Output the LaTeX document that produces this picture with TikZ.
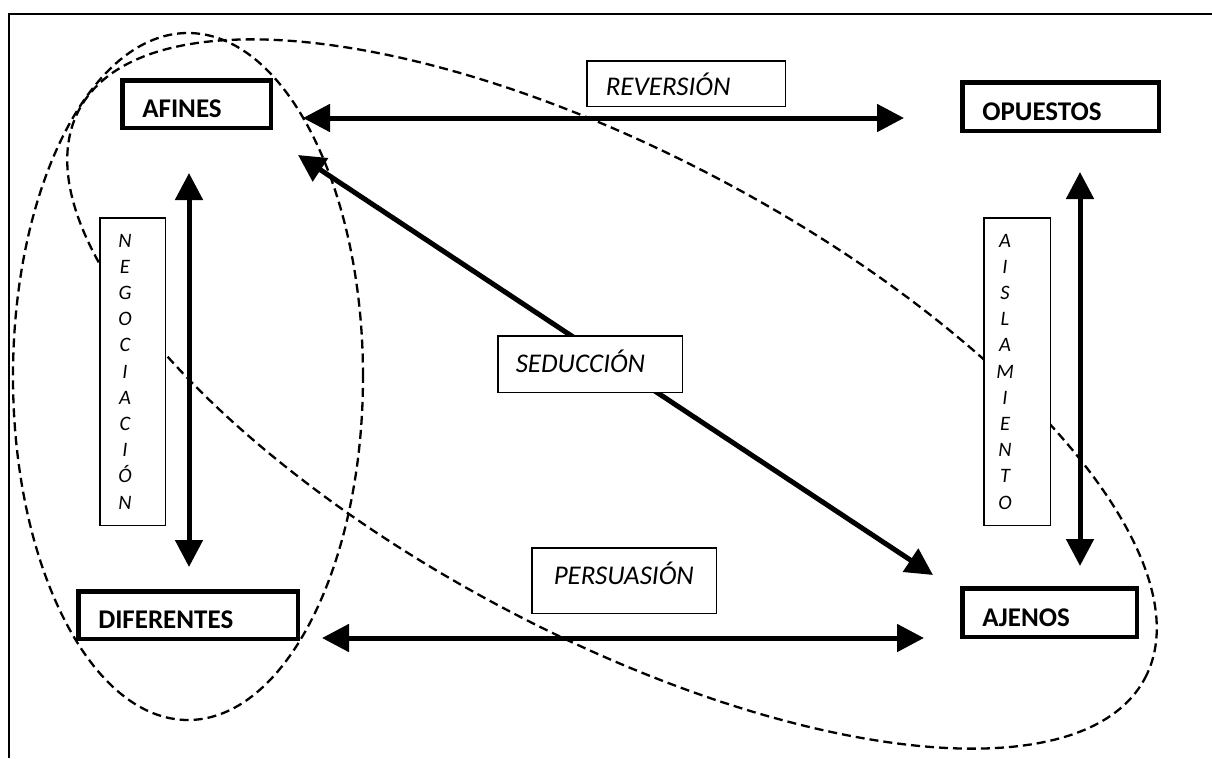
\documentclass[tikz,border=0pt]{standalone}
\usepackage{fontspec}
\setmainfont{Carlito}
\usetikzlibrary{arrows.meta,calc}
\begin{document}
\begin{tikzpicture}[x=1pt,y=-1pt,
  mainbox/.style={draw, fill=white, line width=4.5pt, inner xsep=20pt, inner ysep=0pt,
    text height=27pt, text depth=0pt, align=left, font=\fontsize{27}{32}\selectfont\bfseries},
  labelbox/.style={draw, fill=white, line width=1.5pt, inner ysep=0pt, text depth=0pt,
    align=left, font=\fontsize{27}{32}\selectfont\itshape},
  vbox/.style={draw, fill=white, line width=1.5pt},
  vtext/.style={inner sep=0pt, align=center, font=\fontsize{20.5}{26.2}\selectfont\itshape},
  arr/.style={line width=5pt, {Triangle[length=27pt,width=27pt]}-{Triangle[length=27pt,width=27pt]}},
  dline/.style={line width=2.3pt, dash pattern=on 9pt off 5pt}
]
\useasboundingbox (0,0) rectangle (1212,758);
% frame
\draw[line width=2pt] (9,758) -- (9,14) -- (1212,14);
% groupings
\draw[dline] (188,376.5) ellipse [x radius=175pt, y radius=343.5pt];
\draw[dline] (612,394) circle [x radius=604pt, y radius=240pt, rotate=-28.1];
% main concepts
\node[mainbox, minimum height=47.5pt, text width=108.5pt] (afines) at (196.5,104) {AFINES};
\node[mainbox, minimum height=48.5pt, text width=156.5pt] (opuestos) at (1060.5,106.5) {OPUESTOS};
\node[mainbox, minimum height=47.5pt, text width=179.5pt] (diferentes) at (188,615) {DIFERENTES};
\node[mainbox, minimum height=48.5pt, text width=134.5pt] (ajenos) at (1049.5,612.5) {AJENOS};
% connectors
\draw[arr] ($(afines.east)+(30,14)$) -- ($(opuestos.west)+(-56,11.5)$);
\draw[arr] ($(afines.south)+(-7.5,43)$) -- ($(diferentes.north)+(1,-22)$);
\draw[arr] ($(opuestos.south)+(19.5,39)$) -- ($(ajenos.north)+(30.5,-20)$);
\draw[arr] ($(diferentes.east)+(22,23)$) -- ($(ajenos.west)+(-36,25.5)$);
\draw[arr] ($(afines.south east)+(25,25)$) -- ($(ajenos.north west)+(-27,-11)$);
% labels
\node[labelbox, inner xsep=19pt, text width=160.5pt, minimum height=45.5pt, text height=24pt] (reversion) at (686,83.5) {REVERSIÓN};
\node[labelbox, inner xsep=18pt, text width=148.5pt, minimum height=56.5pt, text height=17pt] (seduccion) at (590,364) {SEDUCCIÓN};
\node[labelbox, inner xsep=22pt, text width=140.5pt, minimum height=65.5pt, text height=8pt] (persuasion) at (624,580.5) {PERSUASIÓN};
\node[vbox, minimum width=65.5pt, minimum height=307.5pt] (negbox) at (132.5,371.5) {};
\node[vtext] (negtext) at (125,371.5) {N\\E\\G\\O\\C\\I\\A\\C\\I\\Ó\\N};
\node[vbox, minimum width=66.5pt, minimum height=307.5pt] (aisbox) at (1017,371.5) {};
\node[vtext] (aistext) at (1005,371.5) {A\\I\\S\\L\\A\\M\\I\\E\\N\\T\\O};
\end{tikzpicture}
\end{document}
